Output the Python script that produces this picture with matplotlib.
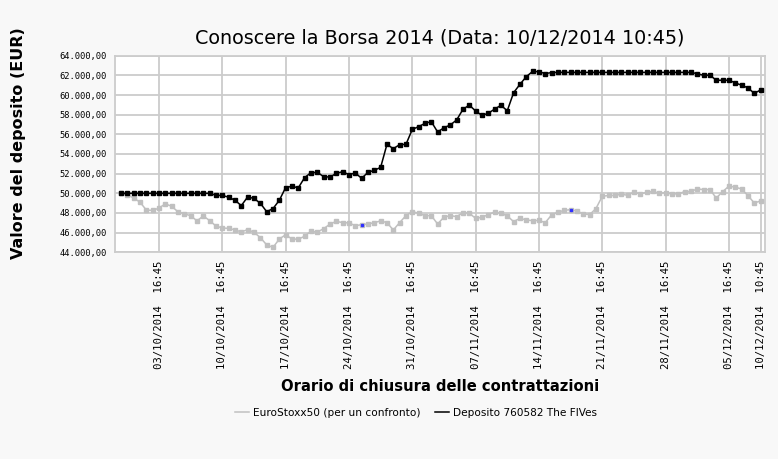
import numpy as np
import matplotlib.pyplot as plt

# valori (due rilevazioni al giorno: 10:45 e 16:45)
deposito = [
    50000, 50000, 50000, 50000, 50000, 50000, 50000, 50000, 50000, 50000,
    50000, 50000, 50000, 50000, 50000, 49800, 49780, 49610, 49290, 48750,
    49630, 49480, 48990, 48140, 48440, 49290, 50590, 50710, 50560, 51600,
    52100, 52130, 51700, 51650, 52030, 52200, 51900, 52070, 51525, 52135,
    52340, 52640, 54980, 54540, 54950, 54980, 56500, 56780, 57120, 57290,
    56240, 56670, 56950, 57460, 58540, 58980, 58370, 57930, 58140, 58570,
    58950, 58400, 60240, 61085, 61865, 62400, 62370, 62180, 62280, 62300,
    62300, 62300, 62300, 62300, 62300, 62300, 62300, 62300, 62300, 62300,
    62300, 62300, 62300, 62300, 62300, 62300, 62300, 62300, 62300, 62300,
    62300, 62170, 62000, 62020, 61500, 61500, 61500, 61240, 60990, 60730,
    60170, 60510,
]
eurostoxx = [
    50000, 49850, 49520, 49100, 48300, 48260, 48500, 48930, 48680, 48120,
    47920, 47720, 47200, 47700, 47220, 46670, 46480, 46430, 46280, 46070,
    46310, 46040, 45500, 44760, 44490, 45350, 45790, 45350, 45330, 45640,
    46150, 46060, 46400, 46870, 47150, 47020, 46990, 46710, 46810, 46880,
    47020, 47190, 47020, 46270, 47020, 47730, 48135, 47970, 47730, 47730,
    46880, 47580, 47730, 47630, 48030, 47970, 47460, 47560, 47830, 48100,
    47970, 47700, 47120, 47460, 47290, 47220, 47240, 47020, 47800, 48080,
    48270, 48340, 48190, 47920, 47830, 48450, 49700, 49780, 49780, 49910,
    49800, 50120, 49930, 50100, 50200, 50000, 50070, 49930, 49950, 50170,
    50200, 50440, 50380, 50380, 49520, 50160, 50730, 50630, 50440, 49770,
    49020, 49220,
]
punti_blu = [38, 71]

tick_idx = [6, 16, 26, 36, 46, 56, 66, 76, 86, 96, 101]
tick_labels = [
    "03/10/2014  16:45", "10/10/2014  16:45", "17/10/2014  16:45",
    "24/10/2014  16:45", "31/10/2014  16:45", "07/11/2014  16:45",
    "14/11/2014  16:45", "21/11/2014  16:45", "28/11/2014  16:45",
    "05/12/2014  16:45", "10/12/2014  10:45",
]
y_ticks = list(range(44000, 64001, 2000))

fig = plt.figure(figsize=(7.78, 4.59), dpi=100, facecolor="#f8f8f8")
ax = fig.add_axes([0.1478, 0.4503, 0.8355, 0.4284])
ax.set_facecolor("white")

x = np.arange(len(deposito))
ax.plot(x, eurostoxx, color="#c0c0c0", lw=1.1, marker="s", ms=2.9,
        label="EuroStoxx50 (per un confronto)", zorder=3)
ax.plot(x, deposito, color="black", lw=1.1, marker="s", ms=2.9,
        label="Deposito 760582 The FIVes", zorder=4)
ax.plot(punti_blu, [eurostoxx[i] for i in punti_blu], ls="none", marker="s",
        ms=2, color="#3030ff", zorder=5)

ax.set_xlim(-0.95, 101.7)
ax.set_ylim(44000, 64000)
ax.set_xticks(tick_idx)
ax.set_xticklabels(tick_labels, rotation=90, family="DejaVu Sans Mono",
                   fontsize=7.7)
ax.set_yticks(y_ticks)
ax.set_yticklabels([f"{v:,.2f}".replace(",", "X").replace(".", ",").replace("X", ".")
                    for v in y_ticks], family="DejaVu Sans Mono", fontsize=6.3)
ax.tick_params(length=0, pad=6)
ax.grid(True, color="#cccccc", lw=1.3)
ax.set_axisbelow(True)
for s in ax.spines.values():
    s.set_color("#cccccc")
    s.set_linewidth(1.3)

ax.set_title("Conoscere la Borsa 2014 (Data: 10/12/2014 10:45)",
             family="DejaVu Sans", fontsize=13.8, pad=9)
ax.set_ylabel("Valore del deposito (EUR)", fontweight="bold", fontsize=11.5)
ax.yaxis.set_label_coords(-0.137, 0.556)
ax.set_xlabel("Orario di chiusura delle contrattazioni", fontweight="bold",
              fontsize=10.6, labelpad=7)

leg = fig.legend(loc="center", bbox_to_anchor=(0.535, 0.10), ncol=2,
                 frameon=False, prop={"family": "DejaVu Sans", "size": 7.6},
                 handlelength=1.3, columnspacing=1.4, handletextpad=0.4,
                 markerscale=0.0001)

fig.savefig("out.png", dpi=100, facecolor=fig.get_facecolor())
